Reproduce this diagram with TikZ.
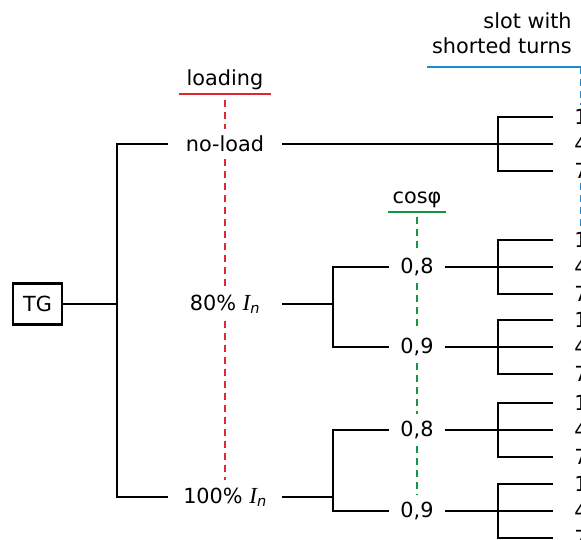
\documentclass[tikz,border=0pt]{standalone}
\usepackage{fontspec}
\setmainfont{DejaVu Sans}
\newfontfamily\curfont{Liberation Serif}
\usepackage{xcolor}
\usetikzlibrary{calc}

\definecolor{loadred}{RGB}{221,40,45}
\definecolor{cosgreen}{RGB}{20,150,70}
\definecolor{slotblue}{RGB}{28,140,206}

\newcommand{\In}{{\curfont\itshape\fontsize{23}{25}\selectfont I}\textsubscript{\itshape n}}

\begin{document}
\begin{tikzpicture}[x=1pt, y=-1pt, line width=2.7pt, font=\fontsize{20.8}{25}\selectfont,
    box/.style = {draw, minimum width=49pt, minimum height=41pt, inner sep=0pt},
    load/.style = {minimum width=112pt, inner xsep=0pt, inner ysep=6pt},
    pf/.style = {minimum width=53pt, inner xsep=0pt, inner ysep=6pt},
    leaf/.style = {anchor=west, inner xsep=20pt, inner ysep=3pt},
    head/.style = {anchor=south, inner ysep=3pt},
    redline/.style = {draw=loadred, line width=2.6pt},
    reddash/.style = {redline, dash pattern=on 7pt off 5pt},
    greenline/.style = {draw=cosgreen, line width=2.6pt},
    greendash/.style = {greenline, dash pattern=on 7pt off 5pt},
    blueline/.style = {draw=slotblue, line width=2.6pt},
    bluedash/.style = {blueline, dash pattern=on 7pt off 5pt}]

    \useasboundingbox (0,0) rectangle (581,540);

    \node [box] (tg) at (37.5,304) {TG};
    \node [load] (noload) at (225,144) {no-load};
    \node [load] (p80) at (225,304) {80\% \In};
    \node [load] (p100) at (225,497) {100\% \In};

    \node [pf] (f1) at (417,267) {0,8};
    \node [pf] (f2) at (417,347) {0,9};
    \node [pf] (f3) at (417,430) {0,8};
    \node [pf] (f4) at (417,511) {0,9};

    \coordinate (j0) at (117,304);
    \coordinate (j1) at (333,304);
    \coordinate (j2) at (333,497);

    \draw (tg) -- (j0);
    \draw (noload.west) -| (j0) |- (p100.west);
    \draw (p80) -- (j1);
    \draw (f1.west) -| (j1) |- (f2.west);
    \draw (p100) -- (j2);
    \draw (f3.west) -| (j2) |- (f4.west);

    \foreach \g/\m/\src in {a/144/noload, b/267/f1, c/347/f2, d/430/f3, e/511/f4} {
        \node [leaf] (s\g1) at (553,\m-27) {1};
        \node [leaf] (s\g4) at (553,\m) {4};
        \node [leaf] (s\g7) at (553,\m+27) {7};
        \draw (\src) -- (s\g4.west);
        \draw (s\g1.west) -- ++(-55,0) |- (s\g7.west);
    }

    % loading
    \node [head, minimum width=90pt] (loading) at (225,94) {loading};
    \draw [redline] (loading.south west) -- (loading.south east);
    \draw [reddash, shorten <=6pt] (loading.south) -- (noload.north);
    \draw [reddash] (noload.south) -- (p80.north);
    \draw [reddash] (p80.south) -- (p100.north);

    % cos phi
    \node [head, minimum width=55pt] (cos) at (417,212) {cosφ};
    \draw [greenline] (cos.south west) -- (cos.south east);
    \draw [greendash, shorten <=5pt] (cos.south) -- (f1.north);
    \draw [greendash] (f1.south) -- (f2.north);
    \draw [greendash] (f2.south) -- (f3.north);
    \draw [greendash] (f3.south) -- (f4.north);

    % slot
    \node [align=right, anchor=south east, inner sep=0pt] (slot) at (573,55) {slot with\\shorted turns};
    \coordinate (s0) at (427,67);
    \draw [blueline] (s0) -- (s0 -| sa1.north);
    \draw [bluedash] (s0 -| sa1.north) -- (sa1.north);
    \draw [bluedash] (sa7.south) -- (sb1.north);

\end{tikzpicture}
\end{document}
